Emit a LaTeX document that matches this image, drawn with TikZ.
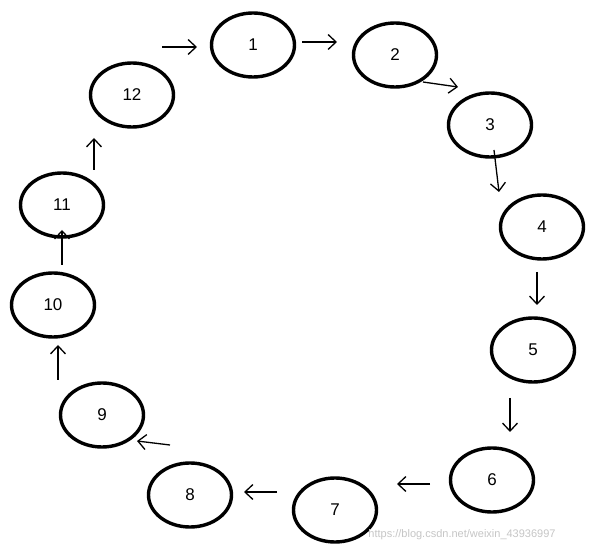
\documentclass[tikz,border=0pt]{standalone}
\usepackage{fontspec}
\setmainfont{Liberation Sans}
\usetikzlibrary{arrows.meta,shapes.geometric}
\begin{document}
\begin{tikzpicture}[x=1pt,y=-1pt,
  ell/.style={draw,line width=3.4pt,ellipse,minimum width=83pt,minimum height=64pt,inner sep=0pt,font=\fontsize{17}{17}\selectfont},
  arr/.style={line width=1.3pt,-{Straight Barb[length=8pt,width=15pt]}}]
\useasboundingbox (0,0) rectangle (611,553);
\fill[white] (0,0) rectangle (611,553);
\node[ell] (n1) at (253,45) {1};
\node[ell] (n2) at (395,55) {2};
\node[ell] (n3) at (490,125) {3};
\node[ell] (n4) at (542,227) {4};
\node[ell] (n5) at (533,350) {5};
\node[ell] (n6) at (492,480) {6};
\node[ell] (n7) at (335,510) {7};
\node[ell] (n8) at (190,495) {8};
\node[ell] (n9) at (102,415) {9};
\node[ell] (n10) at (53,305) {10};
\node[ell] (n11) at (62,205) {11};
\node[ell] (n12) at (132,95) {12};
\coordinate (a1) at (162,47); \coordinate (b1) at (197,47);
\coordinate (a2) at (302,42); \coordinate (b2) at (337,42);
\coordinate (a3) at (423,82); \coordinate (b3) at (458,87);
\coordinate (a4) at (494,150); \coordinate (b4) at (499,192);
\coordinate (a5) at (537,272); \coordinate (b5) at (537,305);
\coordinate (a6) at (510,398); \coordinate (b6) at (510,432);
\coordinate (a7) at (430,484); \coordinate (b7) at (397,484);
\coordinate (a8) at (277,492); \coordinate (b8) at (244,492);
\coordinate (a9) at (170,445); \coordinate (b9) at (137,441);
\coordinate (a10) at (58,380); \coordinate (b10) at (58,345);
\coordinate (a11) at (62,265); \coordinate (b11) at (62,230);
\coordinate (a12) at (94,170); \coordinate (b12) at (94,138);
\foreach \i in {1,...,12} {\draw[arr] (a\i) -- (b\i);}
\node[text=gray!45,font=\fontsize{11}{11}\selectfont] (wm) at (462,535) {https://blog.csdn.net/weixin\_43936997};
\end{tikzpicture}
\end{document}
